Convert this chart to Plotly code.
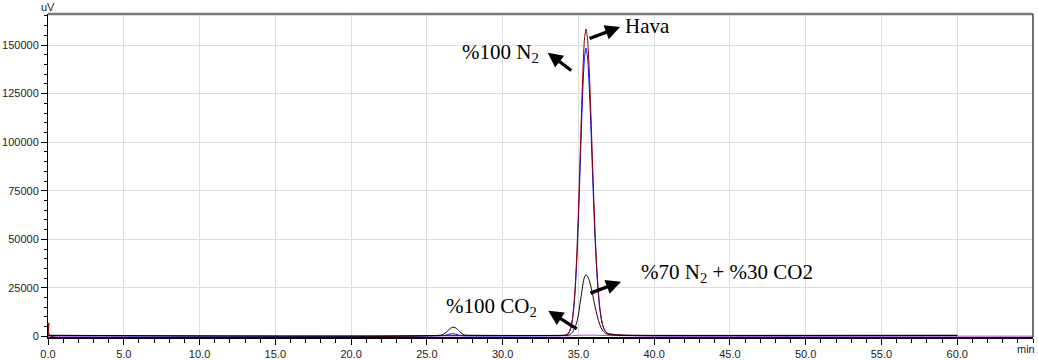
import plotly.graph_objects as go

# ---- data (time in min, signal in uV) ----
t_hava = [0.0, 0.06, 0.12, 26.0, 33.9, 34.0, 34.1, 34.2, 34.3, 34.4, 34.5, 34.6, 34.7, 34.8, 34.9,
          35.0, 35.1, 35.2, 35.3, 35.4, 35.5, 35.6, 35.7, 35.8, 35.9, 36.0, 36.1, 36.2,
          36.3, 36.4, 36.5, 36.6, 36.7, 36.8, 36.9, 37.0, 37.5, 38.0, 39.0, 60.0]
uv_hava = [500, 7000, 500, 500, 500, 540, 620, 830, 1300, 2400, 4600, 8700, 15800, 26900, 43000,
           64000, 88800, 114500, 137300, 153100, 158300, 153500, 140000, 120500, 97500, 74500,
           54000, 37500, 25000, 16000, 10000, 6000, 3800, 2500, 1800, 1400, 900, 650, 500, 500]

t_n2 = [0.0, 26.0, 26.3, 26.5, 26.7, 26.9, 27.1, 27.3, 33.9, 34.0, 34.1, 34.2, 34.3, 34.4,
        34.5, 34.6, 34.7, 34.8, 34.9, 35.0, 35.1, 35.2, 35.3, 35.4, 35.5, 35.6, 35.7, 35.8,
        35.9, 36.0, 36.1, 36.2, 36.3, 36.4, 36.5, 36.6, 36.7, 36.8, 36.9, 37.0, 37.5, 38.0,
        39.0, 60.0]
uv_n2 = [400, 400, 700, 1200, 1400, 1200, 700, 400, 400, 440, 510, 700, 1170, 2180,
         4200, 8050, 14700, 25100, 40200, 59900, 83200, 107300, 128700, 143500, 148400,
         143900, 131200, 113000, 91400, 69800, 50600, 35200, 23400, 15000, 9400, 5600, 3600,
         2300, 1700, 1300, 800, 550, 400, 400]

t_mix = [0.0, 25.9, 26.1, 26.3, 26.5, 26.7, 26.9, 27.1, 27.3, 27.5, 27.7, 34.2, 34.4, 34.5,
         34.6, 34.7, 34.8, 34.9, 35.0, 35.1, 35.2, 35.3, 35.4, 35.5, 35.6, 35.7, 35.8, 35.9,
         36.0, 36.1, 36.2, 36.3, 36.4, 36.5, 36.6, 36.7, 36.8, 37.0, 37.3, 37.6, 60.0]
uv_mix = [600, 600, 1100, 2300, 3800, 4800, 4400, 3000, 1500, 700, 600, 600, 800, 1300,
          2000, 3500, 5000, 7500, 11000, 16500, 21500, 27000, 30500, 31700, 31000, 29300,
          26500, 23000, 19200, 15400, 12000, 8900, 6300, 4400, 3000, 2100, 1500, 1000, 700,
          600, 600]

t_co2 = [0.0, 34.0, 34.5, 35.0, 35.5, 36.0, 36.5, 37.5, 38.5, 40.0, 65.0]
uv_co2 = [150, 150, 300, 600, 800, 700, 500, 300, 200, 150, 150]

x_tickvals = [0, 5, 10, 15, 20, 25, 30, 35, 40, 45, 50, 55, 60]
x_ticktext = ["0.0", "5.0", "10.0", "15.0", "20.0", "25.0", "30.0", "35.0", "40.0",
              "45.0", "50.0", "55.0", "60.0"]
y_tickvals = [0, 25000, 50000, 75000, 100000, 125000, 150000]
y_ticktext = ["0", "25000", "50000", "75000", "100000", "125000", "150000"]

fig = go.Figure()
fig.add_trace(go.Scatter(x=t_co2, y=uv_co2, mode="lines", name="%100 CO2",
                         line=dict(color="#C040E0", width=1)))
fig.add_trace(go.Scatter(x=t_n2, y=uv_n2, mode="lines", name="%100 N2",
                         line=dict(color="#0000FF", width=1, shape="spline", smoothing=0.6)))
fig.add_trace(go.Scatter(x=t_hava, y=uv_hava, mode="lines", name="Hava",
                         line=dict(color="#8B0000", width=1, shape="spline", smoothing=0.6)))
fig.add_trace(go.Scatter(x=t_mix, y=uv_mix, mode="lines", name="%70 N2 + %30 CO2",
                         line=dict(color="#000000", width=1, shape="spline", smoothing=0.6)))

tickfont = dict(family="Liberation Sans, Arial, sans-serif", size=11, color="#222")
fig.update_layout(
    width=1038, height=360,
    margin=dict(l=48, r=5, t=14, b=23, autoexpand=False),
    paper_bgcolor="white", plot_bgcolor="white",
    showlegend=False,
    xaxis=dict(range=[0, 65], tickvals=x_tickvals, ticktext=x_ticktext,
               automargin=False,
               showgrid=True, gridcolor="#dddddd", gridwidth=1,
               showline=True, linecolor="#000", linewidth=1.5,
               ticks="outside", ticklen=6, tickcolor="#000", tickwidth=1,
               tickfont=tickfont, zeroline=False,
               minor=dict(dtick=1, tick0=0, ticks="outside", ticklen=4,
                          tickcolor="#000", showgrid=False)),
    yaxis=dict(range=[-300, 166000], tickvals=y_tickvals, ticktext=y_ticktext,
               automargin=False,
               showgrid=True, gridcolor="#dddddd", gridwidth=1,
               showline=True, linecolor="#000", linewidth=1,
               ticks="outside", ticklen=6, tickcolor="#000", tickwidth=1,
               tickfont=tickfont, zeroline=False,
               minor=dict(dtick=5000, tick0=0, ticks="outside", ticklen=3,
                          tickcolor="#000", showgrid=False)),
)

# frame: gray top border, dark right border
fig.add_shape(type="line", xref="paper", yref="paper", x0=0, x1=1, y0=1, y1=1,
              line=dict(color="#7a7a7a", width=2.5))
fig.add_shape(type="line", xref="paper", yref="paper", x0=1, x1=1, y0=0, y1=1,
              line=dict(color="#444", width=1.5))

axisfont = dict(family="Liberation Sans, Arial, sans-serif", size=11, color="#222")
fig.add_annotation(xref="paper", yref="paper", x=0, y=1, text="uV", showarrow=False,
                   xanchor="center", yanchor="middle", yshift=7, font=axisfont)
fig.add_annotation(xref="paper", yref="paper", x=1, y=0, text="min", showarrow=False,
                   xanchor="right", yanchor="middle", xshift=4, yshift=-12, font=axisfont)

serif = dict(family="Liberation Serif, Times New Roman, serif", size=21, color="#000")
labels = [
    (39.56, 159800, "Hava"),
    (29.89, 146000, "%100 N<sub>2</sub>"),
    (44.79, 32500, "%70 N<sub>2</sub> + %30 CO2"),
    (29.25, 15400, "%100 CO<sub>2</sub>"),
]
for x, y, txt in labels:
    fig.add_annotation(x=x, y=y, text=txt, showarrow=False, font=serif,
                       xanchor="center", yanchor="middle")

arrows = [
    (37.75, 159300, -32, 12),
    (32.98, 146100, 25, 19),
    (37.81, 28200, -32, 12),
    (33.01, 13200, 30, 19),
]
for x, y, ax, ay in arrows:
    fig.add_annotation(x=x, y=y, ax=ax, ay=ay, text="", showarrow=True,
                       arrowhead=2, arrowsize=0.9, arrowwidth=3.3, arrowcolor="#000",
                       standoff=0, startstandoff=0)

fig.write_html("out.html")
